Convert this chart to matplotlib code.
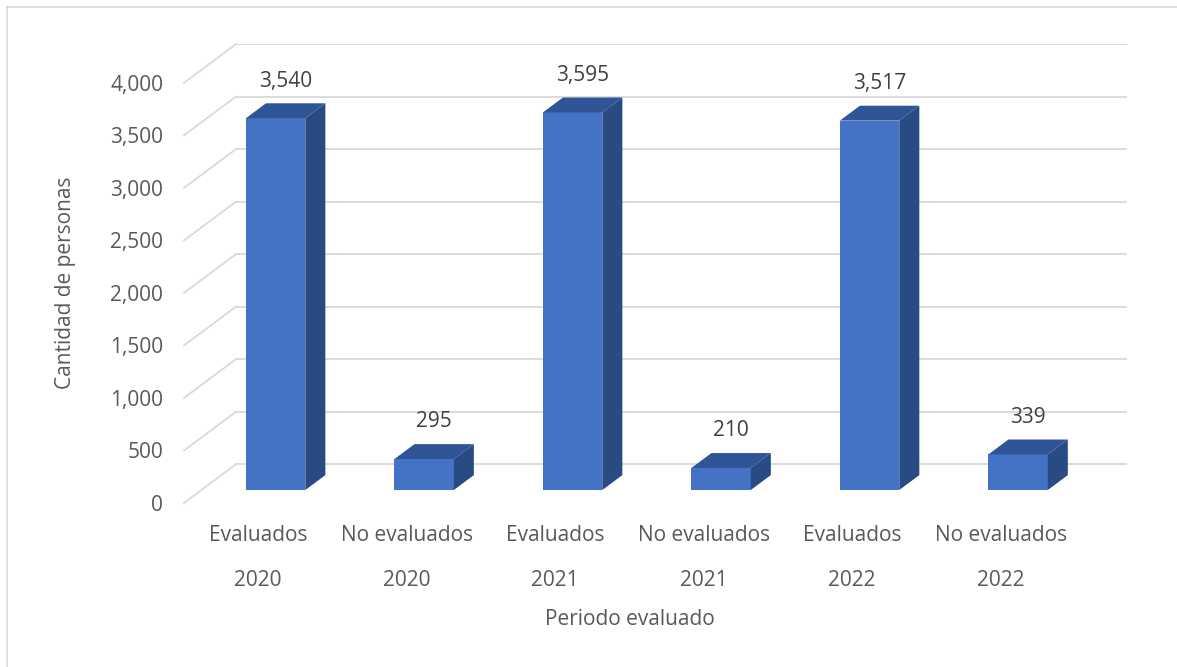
import numpy as np
import matplotlib.pyplot as plt
from matplotlib.patches import Polygon
from matplotlib.lines import Line2D

plt.rcParams['font.family'] = ['Open Sans', 'DejaVu Sans']

categorias = ['Evaluados\n2020', 'No evaluados\n2020', 'Evaluados\n2021',
              'No evaluados\n2021', 'Evaluados\n2022', 'No evaluados\n2022']
valores = [3540, 295, 3595, 210, 3517, 339]
yticks = np.arange(0, 4001, 500)

# fake 3D: depth offsets in data units (x in categories, y in personas)
wall_dx, wall_dy = 0.3506, 370.0     # front edge -> back wall
bar_ox, bar_oy = 0.117, 123.5        # where the bar front face sits
bar_dx, bar_dy = 0.135, 142.0        # bar depth
ancho = 0.4

c_front = '#4472C4'
c_top = '#2F5597'
c_side = '#284B84'
c_grid = '#D9D9D9'
c_text = '#595959'

fig = plt.figure(figsize=(11.77, 6.67), dpi=100)
ax = fig.add_axes([184 / 1177, 1 - 503 / 667, (1127 - 184) / 1177, (503 - 44) / 667])
ax.set_xlim(0, len(valores) + wall_dx)
ax.set_ylim(0, yticks[-1] + wall_dy)
for s in ax.spines.values():
    s.set_visible(False)

# back wall and side wall grid
for v in yticks:
    ax.plot([wall_dx, len(valores) + wall_dx], [v + wall_dy, v + wall_dy],
            color=c_grid, lw=1.3, zorder=1)
    ax.plot([0, wall_dx], [v, v + wall_dy], color=c_grid, lw=1.3, zorder=1,
            clip_on=False)

for i, v in enumerate(valores):
    x0 = i + 0.5 - ancho / 2 + bar_ox
    x1 = x0 + ancho
    y0 = bar_oy
    y1 = v + bar_oy
    frente = Polygon([(x0, y0), (x1, y0), (x1, y1), (x0, y1)], closed=True,
                     facecolor=c_front, edgecolor='none', zorder=3)
    techo = Polygon([(x0, y1), (x1, y1), (x1 + bar_dx, y1 + bar_dy),
                     (x0 + bar_dx, y1 + bar_dy)], closed=True,
                    facecolor=c_top, edgecolor='none', zorder=3)
    lado = Polygon([(x1, y0), (x1 + bar_dx, y0 + bar_dy),
                    (x1 + bar_dx, y1 + bar_dy), (x1, y1)], closed=True,
                   facecolor=c_side, edgecolor='none', zorder=3)
    for p in (frente, techo, lado):
        ax.add_patch(p)
    ax.annotate(f'{v:,}', xy=(i + 0.5 + bar_ox + bar_dx / 2, y1 + bar_dy),
                xytext=(0, 16), textcoords='offset points', ha='center',
                va='center', fontsize=15, color='#404040', zorder=4)

ax.set_yticks(yticks)
ax.set_yticklabels([f'{v:,}' for v in yticks])
ax.set_xticks(np.arange(len(valores)) + 0.5)
ax.set_xticklabels(categorias, linespacing=2.5)
ax.tick_params(axis='y', length=0, pad=15, labelsize=15, labelcolor=c_text)
ax.tick_params(axis='x', length=0, pad=15.5, labelsize=15, labelcolor=c_text)

ax.set_ylabel('Cantidad de personas', fontsize=15, color=c_text)
ax.yaxis.set_label_coords(-0.114, 0.479)
ax.set_xlabel('Periodo evaluado', fontsize=15, color=c_text)
ax.xaxis.set_label_coords(3 / (len(valores) + wall_dx), -0.231)

# chart area border
fig.add_artist(Line2D([7 / 1177, 1], [1 - 7 / 667, 1 - 7 / 667], color=c_grid, lw=1.2))
fig.add_artist(Line2D([7 / 1177, 7 / 1177], [0, 1 - 7 / 667], color=c_grid, lw=1.2))

fig.savefig('out.png', dpi=100)
